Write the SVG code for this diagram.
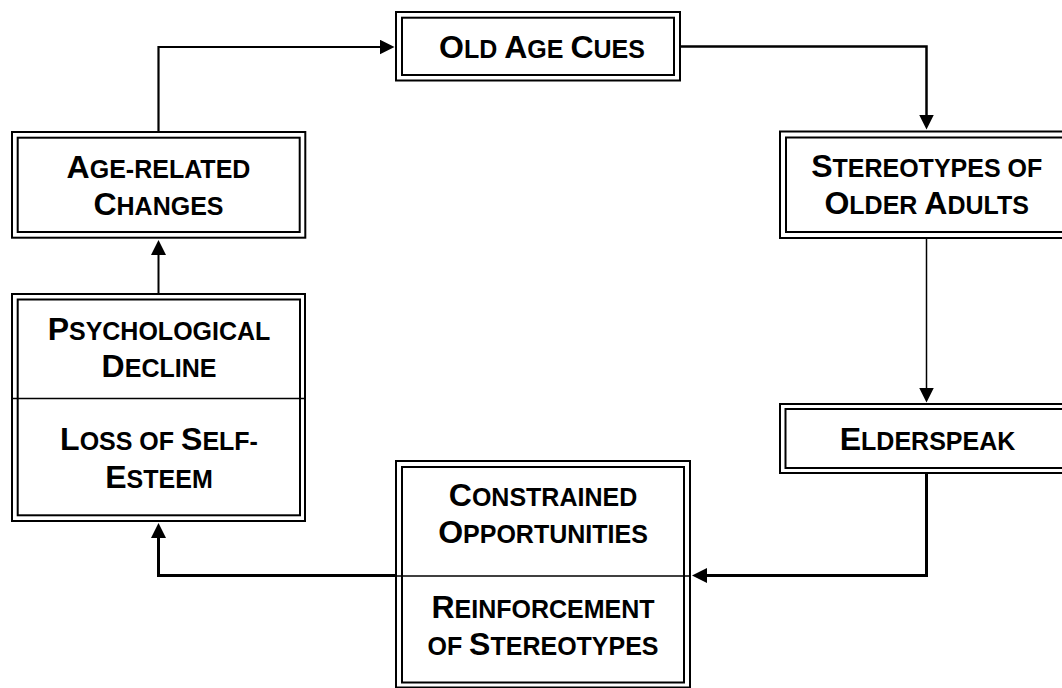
<svg xmlns="http://www.w3.org/2000/svg" width="1062" height="688" viewBox="0 0 1062 688">
<style>
.o{fill:none;stroke:#000;stroke-width:2}
.i{fill:none;stroke:#000;stroke-width:2}
.div{stroke:#000;stroke-width:1.5}
.t{font-family:"Liberation Sans",Arial,sans-serif;font-weight:bold;font-size:25px;fill:#000;text-anchor:middle}
.b{font-size:32px}
.c{fill:none;stroke:#000}
</style>
<defs>
<marker id="ah" viewBox="0 0 15 15" refX="5" refY="7.5" markerWidth="15" markerHeight="15" markerUnits="userSpaceOnUse" orient="auto">
<path d="M0,0 L15,7.5 L0,15 z" fill="#000"/>
</marker>
</defs>
<rect x="0" y="0" width="1062" height="688" fill="#fff"/>
<g id="connectors">
<path class="c" stroke-width="2.2" d="M158.5,132 V47 H384.5" marker-end="url(#ah)"/>
<path class="c" stroke-width="2.5" d="M680,46.5 H926.5 V119.5" marker-end="url(#ah)"/>
<path class="c" stroke-width="1.5" d="M926.5,238 V392.5" marker-end="url(#ah)"/>
<path class="c" stroke-width="3" d="M926.5,473 V575.5 H702" marker-end="url(#ah)"/>
<path class="c" stroke-width="3" d="M396,575.5 H158.5 V533" marker-end="url(#ah)"/>
<path class="c" stroke-width="2" d="M158.5,294 V250" marker-end="url(#ah)"/>
</g>
<g id="old-age-cues">
<rect class="o" x="396" y="12" width="284" height="68.5"/>
<rect class="i" x="402" y="17.7" width="272" height="57.3"/>
<text class="t" x="542" y="58"><tspan class="b">O</tspan>LD <tspan class="b">A</tspan>GE <tspan class="b">C</tspan>UES</text>
</g>
<g id="stereotypes">
<rect class="o" x="780" y="131.5" width="293" height="106.5"/>
<rect class="i" x="786" y="137.5" width="281" height="94.5"/>
<text class="t" x="926.7" y="177"><tspan class="b">S</tspan>TEREOTYPES OF</text>
<text class="t" x="926.7" y="214"><tspan class="b">O</tspan>LDER <tspan class="b">A</tspan>DULTS</text>
</g>
<g id="elderspeak">
<rect class="o" x="780" y="404" width="293" height="69"/>
<rect class="i" x="785.5" y="409" width="282" height="59"/>
<text class="t" x="927.5" y="450"><tspan class="b">E</tspan>LDERSPEAK</text>
</g>
<g id="constrained">
<rect class="o" x="396" y="461" width="294" height="226.5"/>
<rect class="i" x="402" y="467" width="282" height="215.5"/>
<line class="div" x1="397" y1="576" x2="689" y2="576"/>
<text class="t" x="543" y="505.5"><tspan class="b">C</tspan>ONSTRAINED</text>
<text class="t" x="543" y="543.3"><tspan class="b">O</tspan>PPORTUNITIES</text>
<text class="t" x="543" y="617.7"><tspan class="b">R</tspan>EINFORCEMENT</text>
<text class="t" x="543" y="655">OF <tspan class="b">S</tspan>TEREOTYPES</text>
</g>
<g id="psychological">
<rect class="o" x="12" y="294" width="293" height="227"/>
<rect class="i" x="17.7" y="299.5" width="282.3" height="215.8"/>
<line class="div" x1="13" y1="398.5" x2="304" y2="398.5"/>
<text class="t" x="159" y="340"><tspan class="b">P</tspan>SYCHOLOGICAL</text>
<text class="t" x="159" y="376.7"><tspan class="b">D</tspan>ECLINE</text>
<text class="t" x="159" y="450"><tspan class="b">L</tspan>OSS OF <tspan class="b">S</tspan>ELF-</text>
<text class="t" x="159" y="488"><tspan class="b">E</tspan>STEEM</text>
</g>
<g id="age-related">
<rect class="o" x="12" y="132" width="293.3" height="105.7"/>
<rect class="i" x="17.7" y="137.7" width="282" height="94.3"/>
<text class="t" x="158.5" y="178"><tspan class="b">A</tspan>GE-RELATED</text>
<text class="t" x="158.5" y="215"><tspan class="b">C</tspan>HANGES</text>
</g>
</svg>
